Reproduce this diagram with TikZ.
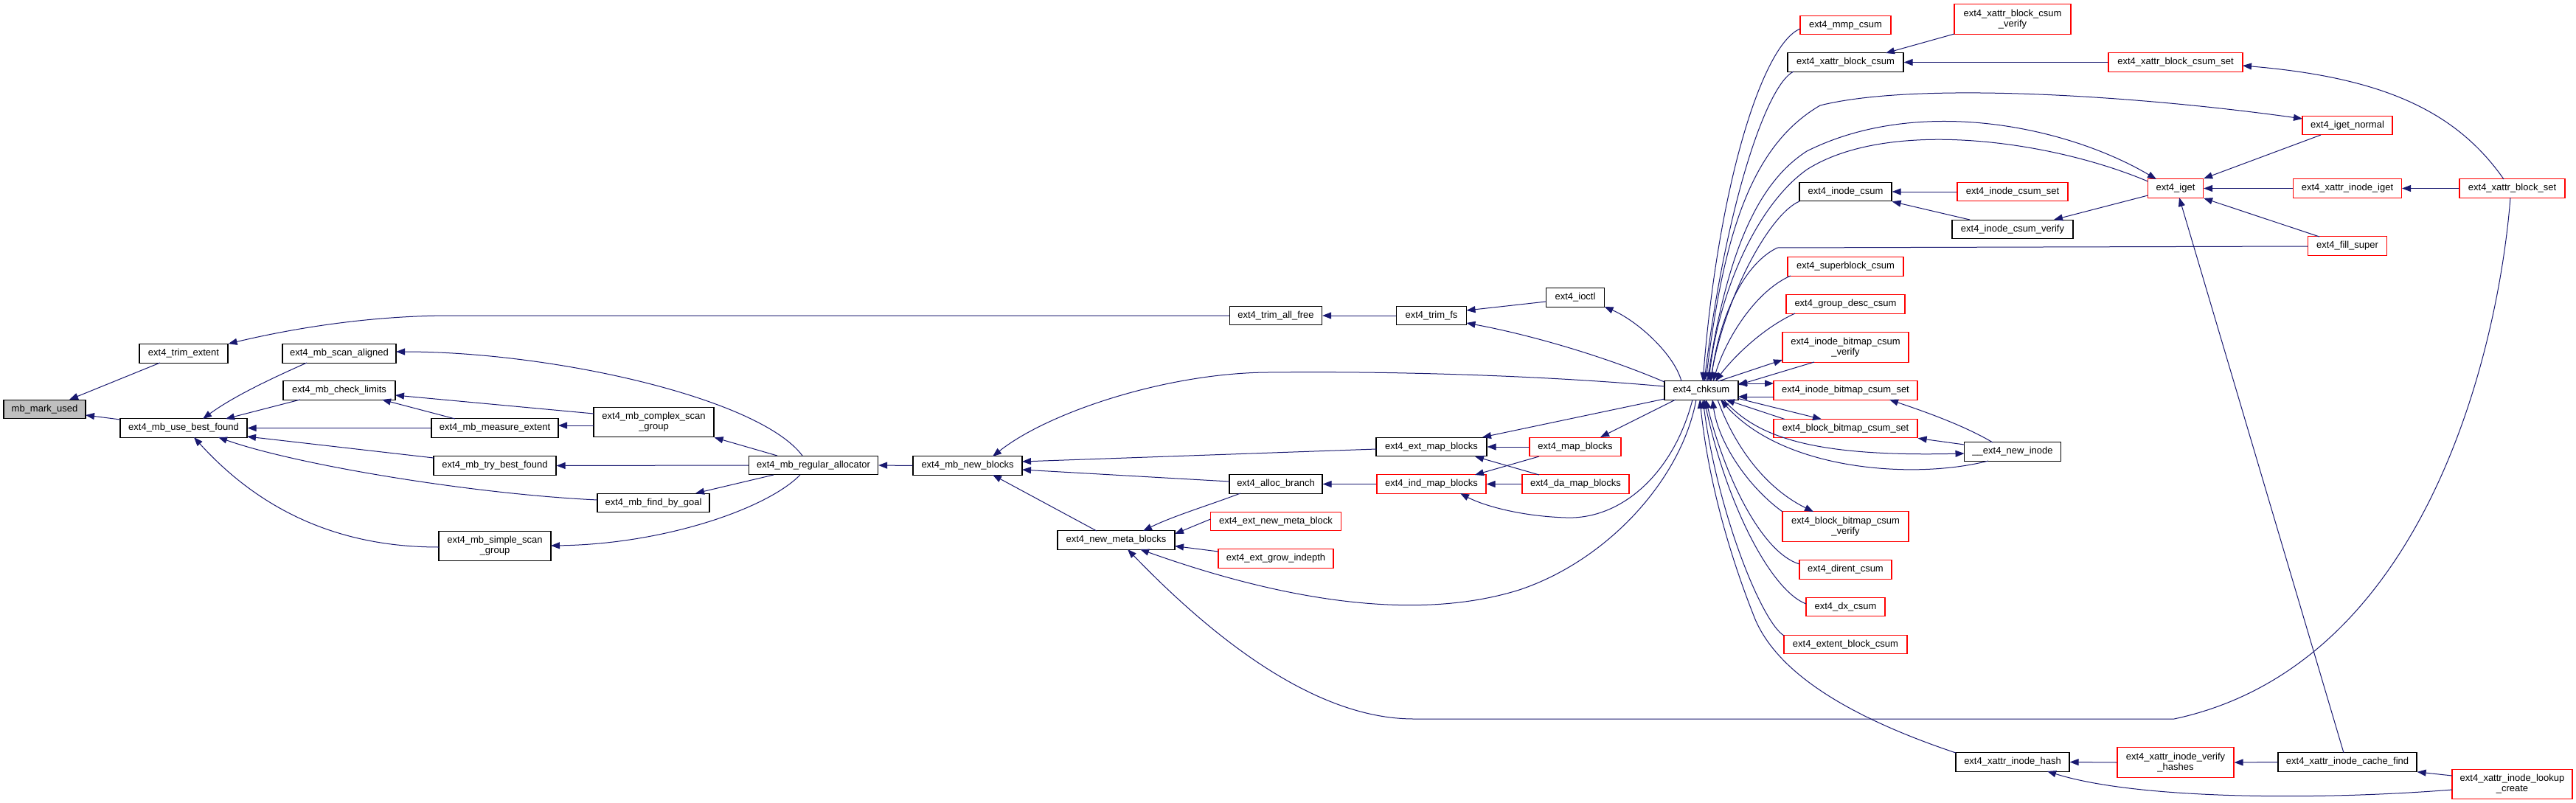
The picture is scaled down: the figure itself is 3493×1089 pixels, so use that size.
\documentclass[tikz,border=0pt]{standalone}
\usepackage{fontspec}
\setmainfont{Liberation Sans}
\usetikzlibrary{arrows.meta,calc}
\definecolor{edgec}{RGB}{25,25,112}
\definecolor{grayfill}{RGB}{191,191,191}
\definecolor{redb}{RGB}{255,0,0}
\newcommand{\nodefnt}{\fontsize{13pt}{14pt}\selectfont}
\tikzset{
  nb/.style={draw=black, line width=1.2pt, fill=white, minimum height=25.5pt, inner sep=0pt, font=\nodefnt, align=center, text=black},
  rb/.style={nb, draw=redb},
  two/.style={minimum height=40.5pt},
  ed/.style={draw=edgec, line width=1pt, -{Triangle[length=12pt,width=9pt]}},
  edb/.style={draw=edgec, line width=1pt, {Triangle[length=12pt,width=9pt]}-{Triangle[length=12pt,width=9pt]}}
}
\begin{document}
\begin{tikzpicture}[x=1pt,y=-1pt]
\useasboundingbox (0,0) rectangle (3493,1089);
\fill[white] (0,0) rectangle (3493,1089);
% ---------------- nodes ----------------
\node[nb, fill=grayfill, minimum width=111pt] (mark) at (60.5,555) {mb\_mark\_used};
\node[nb, minimum width=120pt] (trimext) at (249,479.5) {ext4\_trim\_extent};
\node[nb, minimum width=172pt] (ubf) at (249,580.5) {ext4\_mb\_use\_best\_found};
\node[nb, minimum width=154pt] (scanal) at (460,479.5) {ext4\_mb\_scan\_aligned};
\node[nb, minimum width=152pt] (chklim) at (460,529.5) {ext4\_mb\_check\_limits};
\node[nb, minimum width=172pt] (measure) at (671,580.5) {ext4\_mb\_measure\_extent};
\node[nb, minimum width=166pt] (trybest) at (671,631.5) {ext4\_mb\_try\_best\_found};
\node[nb, two, minimum width=152pt] (simple) at (671,740.5) {ext4\_mb\_simple\_scan\\\_group};
\node[nb, two, minimum width=163pt] (complex) at (886.5,572.5) {ext4\_mb\_complex\_scan\\\_group};
\node[nb, minimum width=152pt] (goal) at (886,682) {ext4\_mb\_find\_by\_goal};
\node[nb, minimum width=175pt] (regalloc) at (1103,631) {ext4\_mb\_regular\_allocator};
\node[nb, minimum width=148pt] (newblk) at (1312,631.5) {ext4\_mb\_new\_blocks};
\node[nb, minimum width=125pt] (trimall) at (1730,428) {ext4\_trim\_all\_free};
\node[nb, minimum width=95pt] (trimfs) at (1941,428) {ext4\_trim\_fs};
\node[nb, minimum width=79pt] (ioctl) at (2136,403.5) {ext4\_ioctl};
\node[nb, minimum width=150pt] (extmap) at (1941,606) {ext4\_ext\_map\_blocks};
\node[rb, minimum width=124pt] (mapblk) at (2136,606) {ext4\_map\_blocks};
\node[nb, minimum width=126pt] (alloc) at (1730,656.5) {ext4\_alloc\_branch};
\node[rb, minimum width=148pt] (indmap) at (1941,656.5) {ext4\_ind\_map\_blocks};
\node[rb, minimum width=145pt] (damap) at (2136.5,656.5) {ext4\_da\_map\_blocks};
\node[nb, minimum width=159pt] (newmeta) at (1513.5,732.5) {ext4\_new\_meta\_blocks};
\node[rb, minimum width=177pt] (extnewmeta) at (1730,707) {ext4\_ext\_new\_meta\_block};
\node[rb, minimum width=156pt] (grow) at (1730,757.5) {ext4\_ext\_grow\_indepth};
\node[nb, minimum width=100pt] (chksum) at (2307,529.5) {ext4\_chksum};
\node[rb, minimum width=123pt] (mmp) at (2502.5,34) {ext4\_mmp\_csum};
\node[rb, two, minimum width=158pt] (xbcv) at (2729,26) {ext4\_xattr\_block\_csum\\\_verify};
\node[nb, minimum width=157pt] (xbc) at (2502.5,84.5) {ext4\_xattr\_block\_csum};
\node[rb, minimum width=182pt] (xbcs) at (2950,84.5) {ext4\_xattr\_block\_csum\_set};
\node[nb, minimum width=125pt] (icsum) at (2502.5,260) {ext4\_inode\_csum};
\node[rb, minimum width=150pt] (icsumset) at (2729,260) {ext4\_inode\_csum\_set};
\node[nb, minimum width=164pt] (icsumver) at (2729,311) {ext4\_inode\_csum\_verify};
\node[rb, minimum width=157pt] (sbcsum) at (2502.5,361.5) {ext4\_superblock\_csum};
\node[rb, minimum width=161pt] (gdcsum) at (2502.5,412.5) {ext4\_group\_desc\_csum};
\node[rb, two, minimum width=171pt] (ibcv) at (2502.5,471) {ext4\_inode\_bitmap\_csum\\\_verify};
\node[rb, minimum width=195pt] (ibcs) at (2502.5,529.5) {ext4\_inode\_bitmap\_csum\_set};
\node[rb, minimum width=195pt] (bbcs) at (2502.5,581) {ext4\_block\_bitmap\_csum\_set};
\node[nb, minimum width=131pt] (newinode) at (2729,612.5) {\_\_ext4\_new\_inode};
\node[rb, two, minimum width=171pt] (bbcv) at (2502.5,714) {ext4\_block\_bitmap\_csum\\\_verify};
\node[rb, minimum width=125pt] (dirent) at (2502.5,772.5) {ext4\_dirent\_csum};
\node[rb, minimum width=107pt] (dx) at (2502.5,823) {ext4\_dx\_csum};
\node[rb, minimum width=167pt] (extblk) at (2502.5,874) {ext4\_extent\_block\_csum};
\node[nb, minimum width=154pt] (xihash) at (2729,1033.5) {ext4\_xattr\_inode\_hash};
\node[rb, minimum width=122pt] (igetn) at (3183,170) {ext4\_iget\_normal};
\node[rb, minimum width=75pt] (iget) at (2950,255.5) {ext4\_iget};
\node[rb, minimum width=147pt] (xiiget) at (3183,255.5) {ext4\_xattr\_inode\_iget};
\node[rb, minimum width=143pt] (xbset) at (3406.5,255.5) {ext4\_xattr\_block\_set};
\node[rb, minimum width=107pt] (fill) at (3183,333.5) {ext4\_fill\_super};
\node[rb, two, minimum width=158pt] (xivh) at (2950,1034) {ext4\_xattr\_inode\_verify\\\_hashes};
\node[nb, minimum width=188pt] (xicf) at (3183,1033.5) {ext4\_xattr\_inode\_cache\_find};
\node[rb, two, minimum width=163pt] (xilc) at (3406.5,1063.5) {ext4\_xattr\_inode\_lookup\\\_create};
% ---------------- edges: left part ----------------
\draw[ed] ($(trimext)+(-32,12.5)$) -- ($(mark)+(33.5,-13)$);
\draw[ed] ($(ubf)+(-86,-11.5)$) -- ($(mark)+(55.5,8)$);
\draw[ed] (trimall.west) -- (612,428) .. controls (520,428) and (420,440) .. (trimext.north east);
\draw[ed] ($(scanal)+(-44,12.5)$) .. controls (380,508) and (320,535) .. ($(ubf)+(26,-12.5)$);
\draw[ed] ($(chklim)+(-53,12.5)$) -- ($(ubf)+(57,-12.5)$);
\draw[ed] (measure.west) -- (ubf.east);
\draw[ed] ($(trybest)+(-83,-10.5)$) -- ($(ubf)+(86,11.5)$);
\draw[ed] ($(goal)+(-76,-4)$) .. controls (640,670) and (400,630) .. ($(ubf)+(47,12.5)$);
\draw[ed] ($(simple)+(-76,1.5)$) .. controls (470,742) and (360,700) .. ($(ubf)+(14,12.5)$);
\draw[ed] ($(measure)+(-54,-12.5)$) -- ($(chklim)+(58,12.5)$);
\draw[ed] ($(complex)+(-81.5,-11.5)$) -- ($(chklim)+(76,6.5)$);
\draw[ed] ($(complex)+(-81.5,4.5)$) -- ($(measure)+(86,-3.5)$);
\draw[ed] ($(regalloc)+(-15,-13)$) .. controls (1030,540) and (750,477) .. ($(scanal)+(77,-2.5)$);
\draw[ed] ($(regalloc)+(-49,-13)$) -- (complex.south east);
\draw[ed] (regalloc.west) -- (trybest.east);
\draw[ed] ($(regalloc)+(-54,13)$) -- ($(goal)+(57,-13)$);
\draw[ed] ($(regalloc)+(-18,13)$) .. controls (1040,690) and (900,738) .. ($(simple)+(76,-0.5)$);
\draw[ed] (newblk.west) -- (regalloc.east);
% ---------------- edges: middle part ----------------
\draw[ed] ($(chksum)+(-50,-5.5)$) .. controls (2100,510) and (1900,503) .. (1719,505) .. controls (1580,506) and (1420,560) .. ($(newblk)+(34,-12.5)$);
\draw[ed] ($(extmap)+(-74.5,3)$) -- ($(newblk)+(74,-5.5)$);
\draw[ed] ($(alloc)+(-63,-3.5)$) -- ($(newblk)+(74,5.5)$);
\draw[ed] ($(newmeta)+(-26.5,-12.5)$) -- ($(newblk)+(34,12.5)$);
\draw[ed] (trimfs.west) -- (trimall.east);
\draw[ed] ($(ioctl)+(-39.5,5.5)$) -- ($(trimfs)+(47.5,-7)$);
\draw[ed] ($(chksum)+(-50,-11.5)$) .. controls (2180,485) and (2080,455) .. ($(trimfs)+(47.5,10)$);
\draw[ed] ($(chksum)+(-27,-12.5)$) .. controls (2270,480) and (2220,435) .. ($(ioctl)+(39.5,12.5)$);
\draw[ed] ($(chksum)+(-50,11.5)$) -- ($(extmap)+(69,-13)$);
\draw[ed] ($(chksum)+(-35,12.5)$) -- ($(mapblk)+(34,-13)$);
\draw[ed] (mapblk.west) -- (extmap.east);
\draw[ed] ($(damap)+(-49.5,-12.5)$) -- ($(extmap)+(59,13)$);
\draw[ed] ($(mapblk)+(-49,13)$) -- ($(indmap)+(59,-12.5)$);
\draw[ed] (damap.west) -- (indmap.east);
\draw[ed] (indmap.west) -- (alloc.east);
\draw[ed] ($(chksum)+(-12,12.5)$) .. controls (2270,640) and (2200,705) .. (2123,702) .. controls (2060,700) and (2010,685) .. ($(indmap)+(39,12.5)$);
\draw[ed] ($(alloc)+(-48,12.5)$) .. controls (1640,685) and (1590,700) .. ($(newmeta)+(36.5,-12.5)$);
\draw[ed] ($(extnewmeta)+(-88.5,-3)$) -- ($(newmeta)+(79.5,-8.5)$);
\draw[ed] ($(grow)+(-78,-9.5)$) -- ($(newmeta)+(79.5,8)$);
\draw[ed] ($(chksum)+(-7,12.5)$) .. controls (2280,650) and (2180,760) .. (2060,800) .. controls (1900,850) and (1700,800) .. ($(newmeta)+(32.5,12.5)$);
\draw[ed] ($(xbset)+(-2.5,12.5)$) .. controls (3390,450) and (3300,900) .. (2948,975) -- (1917,975) .. controls (1780,975) and (1640,860) .. ($(newmeta)+(15.5,12.5)$);
% ---------------- edges: around ext4_chksum ----------------
\draw[ed] ($(mmp)+(-61.5,5)$) .. controls (2390,60) and (2330,250) .. ($(chksum)+(2,-12.5)$);
\draw[ed] ($(xbc)+(-70.5,12.5)$) .. controls (2395,115) and (2340,280) .. ($(chksum)+(4,-12.5)$);
\draw[ed] ($(chksum)+(6,-12.5)$) .. controls (2335,330) and (2370,200) .. (2468,143) .. controls (2600,110) and (2900,130) .. ($(igetn)+(-61,-9)$);
\draw[ed] ($(chksum)+(8,-12.5)$) .. controls (2340,350) and (2380,250) .. (2450,205) .. controls (2600,130) and (2800,170) .. ($(iget)+(-26,-12.5)$);
\draw[ed] ($(iget)+(-37.5,-9.5)$) .. controls (2780,190) and (2560,160) .. (2450,230) .. controls (2380,280) and (2330,400) .. ($(chksum)+(10,-12.5)$);
\draw[ed] ($(iget)+(-37.5,9.5)$) -- ($(icsumver)+(56,-13)$);
\draw[ed] ($(fill)+(-53.5,0.5)$) -- (2410,336) .. controls (2360,360) and (2330,440) .. ($(chksum)+(13,-12.5)$);
\draw[ed] ($(icsum)+(-62.5,13)$) .. controls (2400,290) and (2340,400) .. ($(chksum)+(12,-12.5)$);
\draw[ed] ($(sbcsum)+(-74.5,12.5)$) .. controls (2380,395) and (2340,460) .. ($(chksum)+(16,-12.5)$);
\draw[ed] ($(gdcsum)+(-68.5,12.5)$) .. controls (2390,445) and (2350,485) .. ($(chksum)+(19,-12.5)$);
\draw[ed] ($(chksum)+(23,-12.5)$) -- ($(ibcv)+(-85.5,17)$);
\draw[ed] ($(ibcv)+(-42.5,20)$) -- ($(chksum)+(50,-7.5)$);
\draw[edb] ($(chksum)+(50,-9.5)$) -- ($(ibcs)+(-97.5,-9.5)$);
\draw[ed] ($(ibcs)+(-97.5,8.5)$) -- ($(chksum)+(50,8.5)$);
\draw[ed] ($(chksum)+(50,11)$) -- ($(bbcs)+(-32.5,-12.5)$);
\draw[ed] ($(bbcs)+(-82.5,-12.5)$) -- ($(chksum)+(33,12.5)$);
\draw[ed] ($(chksum)+(30,12.5)$) .. controls (2380,590) and (2450,620) .. ($(newinode)+(-65.5,2.5)$);
\draw[ed] ($(newinode)+(-33,12.5)$) .. controls (2600,650) and (2420,640) .. ($(chksum)+(26,12.5)$);
\draw[ed] ($(newinode)+(-27,-12.5)$) .. controls (2660,575) and (2600,555) .. ($(ibcs)+(59.5,12.5)$);
\draw[ed] ($(newinode)+(-65.5,-9.5)$) -- (bbcs.south east);
\draw[ed] ($(chksum)+(22,12.5)$) .. controls (2350,600) and (2390,660) .. ($(bbcv)+(-43.5,-20)$);
\draw[ed] ($(bbcv)+(-85.5,-20)$) .. controls (2370,660) and (2330,600) .. ($(chksum)+(15,12.5)$);
\draw[ed] ($(dirent)+(-62.5,-7.5)$) .. controls (2390,750) and (2340,650) .. ($(chksum)+(6,12.5)$);
\draw[ed] ($(dx)+(-53.5,-4)$) .. controls (2400,800) and (2340,680) .. ($(chksum)+(4,12.5)$);
\draw[ed] ($(extblk)+(-83.5,-12)$) .. controls (2390,845) and (2330,700) .. ($(chksum)+(2,12.5)$);
\draw[ed] ($(xihash)+(-77,-12.5)$) .. controls (2500,970) and (2410,910) .. (2380,840) .. controls (2340,740) and (2315,640) .. ($(chksum)+(-2,12.5)$);
% ---------------- edges: right part ----------------
\draw[ed] ($(xbcv)+(-79,20)$) -- ($(xbc)+(54.5,-12.5)$);
\draw[ed] (xbcs.west) -- (xbc.east);
\draw[ed] (icsumset.west) -- (icsum.east);
\draw[ed] ($(icsumver)+(-58,-13)$) -- (icsum.south east);
\draw[ed] ($(xbset)+(-11.5,-12.5)$) .. controls (3330,150) and (3230,105) .. ($(xbcs)+(91,4.5)$);
\draw[ed] (xbset.west) -- (xiiget.east);
\draw[ed] (xiiget.west) -- (iget.east);
\draw[ed] ($(igetn)+(-36,13)$) -- (iget.north east);
\draw[ed] ($(fill)+(-38,-12.5)$) -- (iget.south east);
\draw[ed] ($(xicf)+(-5,-12.5)$) -- ($(iget)+(5,12.5)$);
\draw[ed] (xivh.west) -- (xihash.east);
\draw[ed] (xicf.west) -- (xivh.east);
\draw[ed] ($(xilc)+(-81.5,-11.5)$) -- (xicf.south east);
\draw[ed] ($(xilc)+(-81.5,7.5)$) .. controls (3150,1085) and (2900,1085) .. ($(xihash)+(47,12.5)$);
\end{tikzpicture}
\end{document}
